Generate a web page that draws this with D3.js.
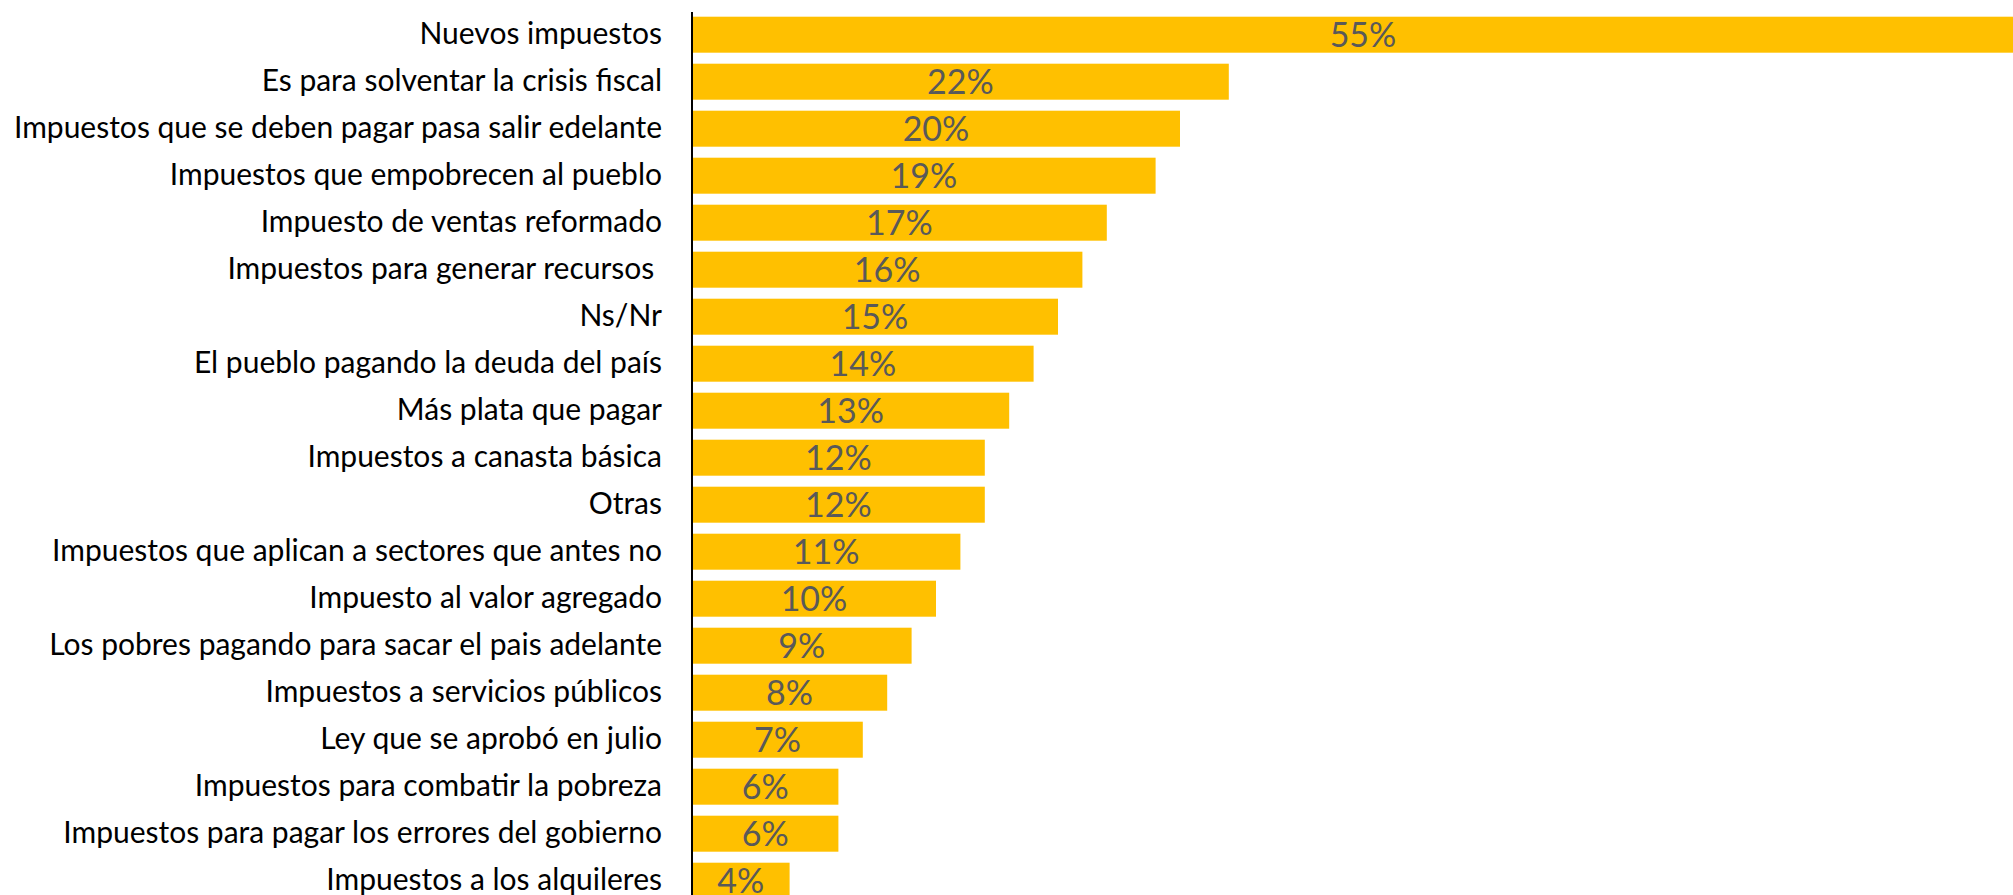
<!DOCTYPE html>
<html><head><meta charset="utf-8">
<script src="https://cdn.jsdelivr.net/npm/d3@7"></script>
<style>html,body{margin:0;padding:0;background:#fff;overflow:hidden} .tick text{white-space:pre}</style>
</head><body>
<script>
const categories = [
  "Nuevos impuestos",
  "Es para solventar la crisis fiscal",
  "Impuestos que se deben pagar pasa salir edelante",
  "Impuestos que empobrecen al pueblo",
  "Impuesto de ventas reformado",
  "Impuestos para generar recursos ",
  "Ns/Nr",
  "El pueblo pagando la deuda del país",
  "Más plata que pagar",
  "Impuestos a canasta básica",
  "Otras",
  "Impuestos que aplican a sectores que antes no",
  "Impuesto al valor agregado",
  "Los pobres pagando para sacar el pais adelante",
  "Impuestos a servicios públicos",
  "Ley que se aprobó en julio",
  "Impuestos para combatir la pobreza",
  "Impuestos para pagar los errores del gobierno",
  "Impuestos a los alquileres"
];
const values = [55, 22, 20, 19, 17, 16, 15, 14, 13, 12, 12, 11, 10, 9, 8, 7, 6, 6, 4];

const W = 2013, H = 895;
const x0 = 692;
const svg = d3.select("body").append("svg").attr("width", W).attr("height", H);

const x = d3.scaleLinear().domain([0, 55]).range([x0, x0 + 55 * 24.4]);
const y = d3.scaleBand().domain(categories).range([11.2, 11.2 + 19 * 47])
  .paddingInner(0.234).paddingOuter(0.117);

svg.selectAll("rect.bar").data(values).enter().append("rect")
  .attr("class", "bar")
  .attr("x", x(0))
  .attr("y", (d, i) => y(categories[i]))
  .attr("width", d => x(d) - x(0))
  .attr("height", y.bandwidth())
  .attr("fill", "#FFC000");

svg.selectAll("text.val").data(values).enter().append("text")
  .attr("class", "val")
  .attr("x", d => (x(d) + x(0)) / 2)
  .attr("y", (d, i) => y(categories[i]) + y.bandwidth() / 2)
  .attr("dy", "0.37em")
  .attr("text-anchor", "middle")
  .attr("font-family", "Lato, sans-serif")
  .attr("font-size", 34)
  .attr("fill", "#595959")
  .text(d => d + "%");

const yAxis = d3.axisLeft(y).tickSize(0).tickPadding(30);
const g = svg.append("g").attr("transform", `translate(${x0},0)`).call(yAxis);
g.select(".domain").remove();
g.selectAll("text").attr("font-family", "Lato, sans-serif").attr("font-size", 30)
  .attr("fill", "#000");

svg.append("line").attr("x1", x0).attr("x2", x0).attr("y1", 12).attr("y2", H)
  .attr("stroke", "#000").attr("stroke-width", 2);
</script>
</body></html>
